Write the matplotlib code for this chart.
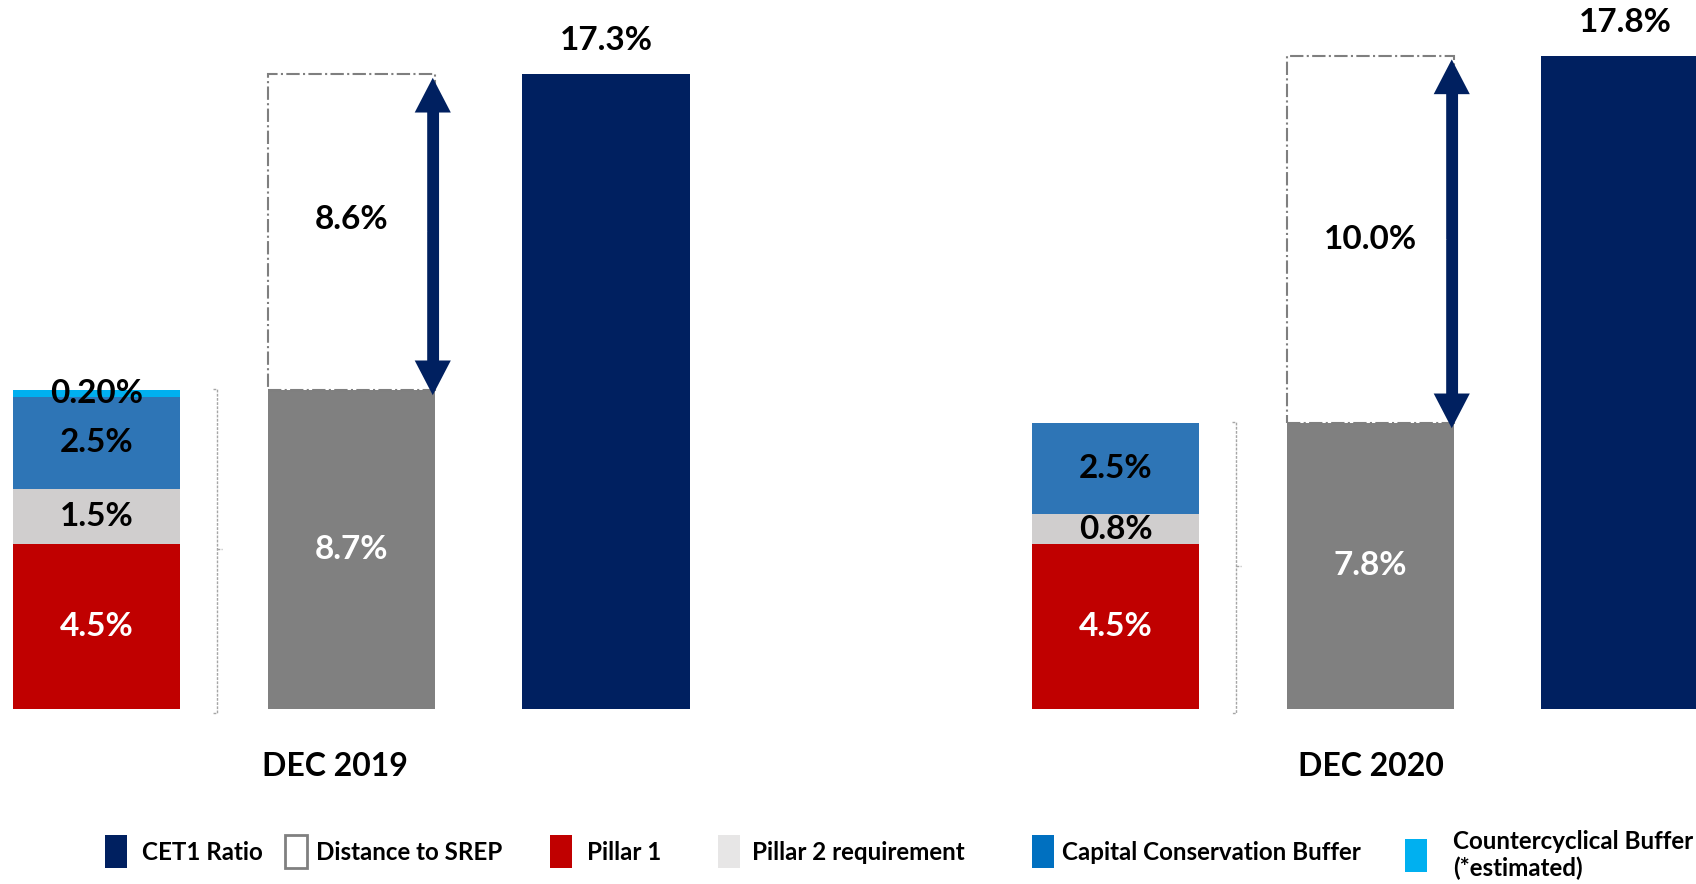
import matplotlib
matplotlib.use("Agg")
import matplotlib.pyplot as plt
from matplotlib.patches import Rectangle

plt.rcParams['font.family'] = ['Lato', 'DejaVu Sans']

# ---- data -------------------------------------------------------------
periods = ['DEC 2019', 'DEC 2020']
pillar1 = [4.5, 4.5]
pillar2 = [1.5, 0.8]
conservation_buffer = [2.5, 2.5]
countercyclical_buffer = [0.20, 0.0]
srep_requirement = [8.7, 7.8]
distance_to_srep = [8.6, 10.0]
cet1_ratio = [17.3, 17.8]

legend_labels = ['CET1 Ratio', 'Distance to SREP', 'Pillar 1',
                 'Pillar 2 requirement', 'Capital Conservation Buffer',
                 'Countercyclical Buffer\n(*estimated)']

# ---- style ------------------------------------------------------------
NAVY = '#002060'
RED = '#C00000'
P2_GREY = '#D0CECE'
CCB_BLUE = '#2E75B6'
CCYB_BLUE = '#00B0F0'
SREP_GREY = '#808080'
EDGE_GREY = '#7F7F7F'

W, H = 1696, 884
fig = plt.figure(figsize=(W / 100, H / 100), dpi=100)
ax = fig.add_axes([0, 0, 1, 1])
ax.set_xlim(-0.0947, 1.5697)
ax.set_ylim(-4.77, 19.32)
ax.axis('off')

bar_w = 0.164
off_req, off_srep, off_cet1 = 0.0, 0.25, 0.50
brace_off = 0.118
arrow_off = 0.08
distance_label_shift = [0.35, 0.0]   # nudge of the distance label inside its box

val_fs = 24
for g, period in enumerate(periods):
    xr = g + off_req
    # stacked requirement bar
    bottom = 0.0
    segments = [(pillar1[g], RED, 'white', '{:.1f}%'),
                (pillar2[g], P2_GREY, 'black', '{:.1f}%'),
                (conservation_buffer[g], CCB_BLUE, 'black', '{:.1f}%'),
                (countercyclical_buffer[g], CCYB_BLUE, 'black', '{:.2f}%')]
    for val, col, tcol, fmt in segments:
        if val <= 0:
            continue
        ax.bar(xr, val, bar_w, bottom=bottom, color=col, edgecolor='none', zorder=2)
        ax.text(xr, bottom + val / 2, fmt.format(val), ha='center', va='center',
                color=tcol, fontsize=val_fs, fontweight='bold', zorder=4)
        bottom += val
    total_req = bottom

    # bracket to the right of the requirement bar
    bx = g + brace_off
    ax.plot([bx - 0.004, bx, bx, bx - 0.004],
            [total_req + 0.02, total_req + 0.02, -0.1, -0.1],
            color='#A6A6A6', lw=1, ls=(0, (2, 1)), zorder=1)
    ax.plot([bx, bx + 0.005], [total_req / 2, total_req / 2],
            color='#A6A6A6', lw=1, ls=(0, (2, 1)), zorder=1)

    # SREP requirement bar and distance box
    xs = g + off_srep
    ax.bar(xs, srep_requirement[g], bar_w, color=SREP_GREY, edgecolor='none', zorder=2)
    ax.text(xs, srep_requirement[g] / 2, f'{srep_requirement[g]:.1f}%',
            ha='center', va='center', color='white', fontsize=val_fs,
            fontweight='bold', zorder=4)
    ax.bar(xs, distance_to_srep[g], bar_w, bottom=srep_requirement[g],
           edgecolor=EDGE_GREY, lw=1.5, ls='-.', zorder=3, fill=False)
    top = srep_requirement[g] + distance_to_srep[g]
    ax.text(xs, srep_requirement[g] + distance_to_srep[g] / 2 + distance_label_shift[g],
            f'{distance_to_srep[g]:.1f}%', ha='center', va='center',
            color='black', fontsize=val_fs, fontweight='bold', zorder=4)

    # double-headed arrow spanning the distance: one shaft, two filled heads
    xa = xs + arrow_off
    y_low, y_high = srep_requirement[g] - 0.15, top - 0.1
    mid = srep_requirement[g] + distance_to_srep[g] / 2
    for y_end in (y_low, y_high):
        ax.annotate('', xy=(xa, y_end), xytext=(xa, mid),
                    arrowprops=dict(arrowstyle='simple,head_length=25,head_width=26,tail_width=8',
                                    mutation_scale=1, color=NAVY, lw=0,
                                    shrinkA=0, shrinkB=0), zorder=5)
    ax.plot([xa, xa], [y_low + 0.8, y_high - 0.8], color=NAVY, lw=8,
            solid_capstyle='butt', zorder=6)

    # CET1 ratio bar
    xc = g + off_cet1
    ax.bar(xc, cet1_ratio[g], bar_w, color=NAVY, edgecolor='none', zorder=2)
    ax.annotate(f'{cet1_ratio[g]:.1f}%', xy=(xc, cet1_ratio[g]), xytext=(0, 24),
                textcoords='offset points', ha='center', va='center',
                fontsize=val_fs, fontweight='bold', color='black')

# period labels under each group
period_x = [0.234, 1.251]
for px, period in zip(period_x, periods):
    ax.text(px, -1.58, period, ha='center', va='center', fontsize=23,
            fontweight='bold', color='black')

# ---- legend -----------------------------------------------------------
legend_faces = [NAVY, 'white', RED, '#E7E6E6', '#0070C0', CCYB_BLUE]
legend_edges = ['none', '#808080', 'none', 'none', 'none', 'none']
patch_x = [105, 285, 550, 718, 1032, 1405]
text_x = [142, 316, 587, 752, 1062, 1453]
patch_y = [835, 835, 835, 835, 835, 839]
text_y = [853, 853, 853, 853, 853, 855]
pw, ph = 22, 33
for lab, fc, ec, pxl, tx, py, ty in zip(legend_labels, legend_faces, legend_edges,
                                        patch_x, text_x, patch_y, text_y):
    fig.add_artist(Rectangle((pxl / W, 1 - (py + ph) / H), pw / W, ph / H,
                             transform=fig.transFigure, facecolor=fc,
                             edgecolor=ec, lw=2))
    fig.text(tx / W, 1 - ty / H, lab, ha='left', va='center', fontsize=17.4,
             fontweight='bold', color='black', linespacing=1.2)

fig.savefig('out.png', dpi=100)
